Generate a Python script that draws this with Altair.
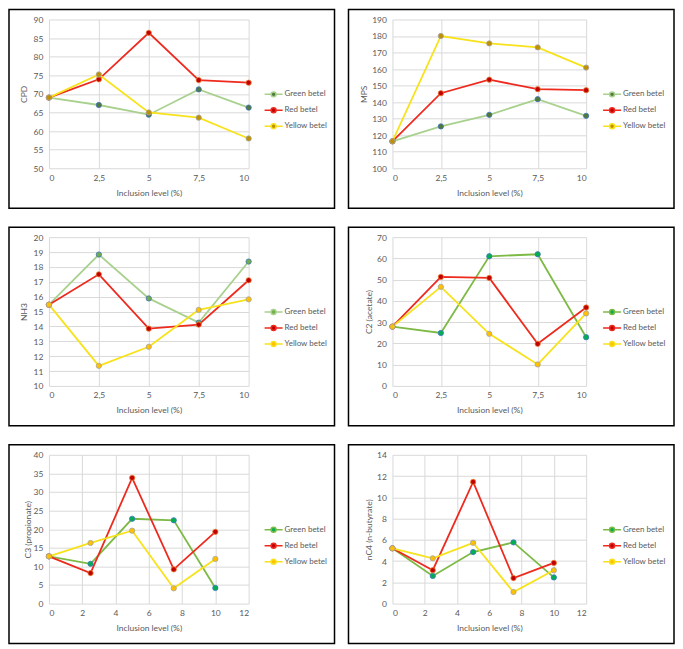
import altair as alt
import pandas as pd

x_levels = [0, 2.5, 5, 7.5, 10]
series_names = ["Green betel", "Red betel", "Yellow betel"]

cpd_green = [69.0, 67.0, 64.4, 71.2, 66.3]
cpd_red = [69.0, 73.9, 86.4, 73.7, 73.0]
cpd_yellow = [69.0, 75.2, 65.0, 63.6, 58.0]

mps_green = [116.3, 125.3, 132.3, 141.8, 131.7]
mps_red = [116.3, 145.4, 153.6, 147.8, 147.2]
mps_yellow = [116.3, 180.0, 175.5, 173.1, 160.9]

nh3_green = [15.46, 18.83, 15.88, 14.25, 18.36]
nh3_red = [15.46, 17.5, 13.85, 14.12, 17.1]
nh3_yellow = [15.46, 11.35, 12.63, 15.11, 15.82]

c2_green = [27.9, 24.9, 61.0, 61.95, 22.9]
c2_red = [27.9, 51.3, 50.8, 19.8, 36.9]
c2_yellow = [27.9, 46.6, 24.5, 10.1, 34.1]

c3_green = [12.7, 10.7, 22.8, 22.4, 4.2]
c3_red = [12.7, 8.2, 33.8, 9.2, 19.3]
c3_yellow = [12.7, 16.3, 19.6, 4.1, 12.0]

nc4_green = [5.2, 2.6, 4.85, 5.76, 2.46]
nc4_red = [5.2, 3.14, 11.45, 2.4, 3.83]
nc4_yellow = [5.2, 4.26, 5.72, 1.09, 3.14]

cat_ticks = [0, 2.5, 5, 7.5, 10]
num_ticks = [0, 2, 4, 6, 8, 10, 12]

line_a = ["#A9D18E", "#EE2A1E", "#F7E21B"]
fill_a = ["#4E7A3A", "#C00000", "#BF9000"]
line_b = ["#A9D18E", "#EE2A1E", "#F7E21B"]
fill_b = ["#70AD47", "#C00000", "#FFC000"]
line_c = ["#7DBA45", "#EE2A1E", "#F7E21B"]
fill_c = ["#00B050", "#C00000", "#FFC000"]
edge_cols = ["#4472C4", "#ED7D31", "#A5A5A5"]

FONT = "Lato"
TXT = "#595959"
GRID = "#D9D9D9"
H = 149
SYM = "M-1.1,0L-0.3,0M0.3,0L1.1,0M0.3,0A0.3,0.3,0,1,1,-0.3,0A0.3,0.3,0,1,1,0.3,0Z"


def panel(y_title, vals, y_dom, y_ticks, x_dom, x_ticks, line_cols, fill_cols, left, ytx):
    rows = []
    for name, vv in zip(series_names, vals):
        for xv, yv in zip(x_levels, vv):
            rows.append({"x": xv, "series": name, "value": yv})
    df = pd.DataFrame(rows)
    W = 200 if left else 194
    fx0 = -40 if left else -44
    lx = W + 16 if left else W + 17
    lab_expr = "replace('' + datum.value, '.', ',')"
    x_axis = alt.Axis(values=x_ticks, tickCount=len(x_ticks), labelExpr=lab_expr,
                      title="Inclusion level (%)", grid=True, ticks=False, domain=False,
                      labelPadding=5, labelOverlap=False, titleY=24, titleBaseline="middle")
    y_axis = alt.Axis(values=y_ticks, tickCount=len(y_ticks), title=y_title, grid=True,
                      ticks=False, domain=False, labelPadding=6, labelOverlap=False,
                      titleX=ytx, titleY=H / 2, titleAngle=270, titleBaseline="middle",
                      titleAlign="center")
    leg = alt.Legend(orient="none", legendX=lx, legendY=66, title=None,
                     symbolType=SYM, symbolSize=269, symbolStrokeWidth=1.5,
                     labelFont=FONT, labelFontSize=8, labelColor=TXT,
                     rowPadding=1, labelOffset=2, padding=0)
    base = alt.Chart(df)
    line = base.mark_line(strokeWidth=1.8).encode(
        x=alt.X("x:Q", scale=alt.Scale(domain=x_dom, nice=False, zero=False), axis=x_axis),
        y=alt.Y("value:Q", scale=alt.Scale(domain=y_dom, nice=False, zero=False), axis=y_axis),
        color=alt.Color("series:N", scale=alt.Scale(domain=series_names, range=line_cols), legend=leg),
    )
    pts = base.mark_point(filled=True, size=28, strokeWidth=0.8, opacity=1).encode(
        x="x:Q",
        y="value:Q",
        fill=alt.Fill("series:N", scale=alt.Scale(domain=series_names, range=fill_cols), legend=leg),
        stroke=alt.Stroke("series:N", scale=alt.Scale(domain=series_names, range=edge_cols), legend=None),
    )
    frame = alt.Chart(alt.Data(values=[{"f": 1}])).mark_rect(
        filled=False, stroke="black", strokeWidth=1.5, fillOpacity=0
    ).encode(x=alt.value(fx0), x2=alt.value(fx0 + 326), y=alt.value(-10), y2=alt.value(189))
    return alt.layer(frame, line, pts).properties(width=W, height=H)


p1 = panel("CPD", [cpd_green, cpd_red, cpd_yellow], [50, 90], list(range(50, 91, 5)),
           [0, 10], cat_ticks, line_a, fill_a, True, -25)
p2 = panel("MPS", [mps_green, mps_red, mps_yellow], [100, 190], list(range(100, 191, 10)),
           [0, 10], cat_ticks, line_a, fill_a, False, -29)
p3 = panel("NH3", [nh3_green, nh3_red, nh3_yellow], [10, 20], list(range(10, 21, 1)),
           [0, 10], cat_ticks, line_b, fill_b, True, -25)
p4 = panel("C2 (acetate)", [c2_green, c2_red, c2_yellow], [0, 70], list(range(0, 71, 10)),
           [0, 10], cat_ticks, line_c, fill_c, False, -24)
p5 = panel("C3 (propionate)", [c3_green, c3_red, c3_yellow], [0, 40], list(range(0, 41, 5)),
           [0, 12], num_ticks, line_c, fill_c, True, -21)
p6 = panel("nC4 (n-butyrate)", [nc4_green, nc4_red, nc4_yellow], [0, 14], list(range(0, 15, 2)),
           [0, 12], num_ticks, line_c, fill_c, False, -24)


def row(a, b):
    return alt.hconcat(a, b, spacing=12).resolve_scale(
        color="independent", fill="independent", stroke="independent"
    ).resolve_legend(color="independent", fill="independent")


chart = alt.vconcat(row(p1, p2), row(p3, p4), row(p5, p6), spacing=17).resolve_scale(
    color="independent", fill="independent", stroke="independent"
).resolve_legend(color="independent", fill="independent").properties(padding=0).configure(
    font=FONT
).configure_view(
    strokeWidth=0
).configure_axis(
    labelFont=FONT, titleFont=FONT, labelFontSize=8.5, titleFontSize=8.5, labelColor=TXT,
    titleColor=TXT, titleFontWeight="normal", gridColor=GRID, gridWidth=1, gridOpacity=1
)

chart.save("out.html", embed_options={"renderer": "svg", "actions": False})
